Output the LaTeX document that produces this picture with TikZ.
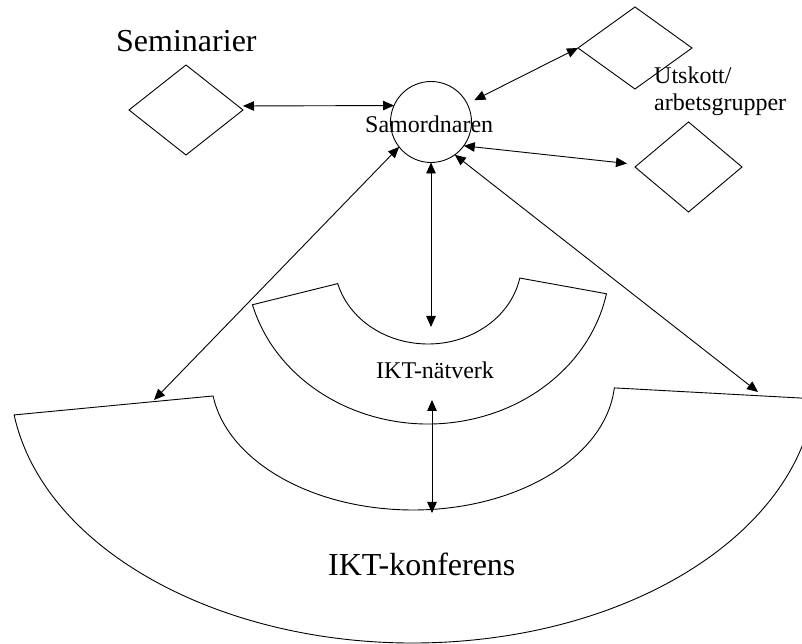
\documentclass[tikz,border=0pt]{standalone}
\usepackage{fontspec}
\setmainfont{Liberation Serif}
\usetikzlibrary{shapes.geometric,arrows.meta,calc}
\begin{document}
\begin{tikzpicture}[x=1pt,y=1pt,
  outline/.style={draw=black, line width=0.9pt},
  rhomb/.style={outline, shape=diamond, inner sep=0pt, outer sep=0pt},
  link/.style={line width=0.9pt,
    {Triangle[length=11pt,width=9.5pt]}-{Triangle[length=11pt,width=9.5pt]}},
  bigtext/.style={inner sep=0pt, anchor=base west, font=\fontsize{32}{38}\selectfont},
  smalltext/.style={inner sep=0pt, anchor=base west, font=\fontsize{24}{27}\selectfont},
]
\clip (0,0) rectangle (802,644);
\fill[white] (0,0) rectangle (802,644);

% conference band (wide elliptical sector)
\coordinate (cc) at (413,267);
\draw[outline] ($(cc)+(188.2:403 and 266)$)
  arc[start angle=188.2, end angle=355.3, x radius=403, y radius=266]
  -- ($(cc)+(355.3:202 and 133)$)
  arc[start angle=355.3, end angle=188.2, x radius=202, y radius=133]
  -- cycle;

% network band (smaller sector)
\coordinate (nc) at (428,382);
\draw[outline] ($(nc)+(195.3:182 and 162)$)
  arc[start angle=195.3, end angle=348.7, x radius=182, y radius=162]
  -- ($(nc)+(348.7:93.6 and 82)$)
  arc[start angle=348.7, end angle=195.3, x radius=93.6, y radius=82]
  -- cycle;

% coordinator circle
\node[outline, circle, minimum size=81pt, inner sep=0pt, outer sep=0pt] (samo) at (431,522) {};

% diamonds
\node[rhomb, minimum width=114pt, minimum height=90pt] (sem) at (186,534) {};
\node[rhomb, minimum width=114pt, minimum height=82pt] (trd) at (635,596) {};
\node[rhomb, minimum width=107pt, minimum height=90pt] (lrd) at (688.5,477) {};

% labels
\node[bigtext] (semlbl) at (116,592) {Seminarier};
\node[bigtext] (conflbl) at (328,68) {IKT-konferens};
\node[smalltext] (netlbl) at (376,265) {IKT-nätverk};
\node[smalltext] (samolbl) at (365,511) {Samordnaren};
\node[smalltext, align=left] (utlbl) at (654,533) {Utskott/\\arbetsgrupper};

% arrow ends on the bands
\coordinate (conf-l) at (154,244);
\coordinate (conf-r) at (758,252);
\coordinate (net-in) at (431,317);
\coordinate (net-out) at (432,244);
\coordinate (conf-in) at (432,131);

% connectors
\draw[link] ([yshift=4pt]sem.east) -- (samo.156.7);
\draw[link, shorten >=8pt] (trd.west) -- (samo);
\draw[link] (samo.-36) -- ([xshift=-8pt,yshift=3.5pt]lrd.west);
\draw[link] (samo.218) -- (conf-l);
\draw[link] (samo.south) -- (net-in);
\draw[link] (samo.-54) -- (conf-r);
\draw[link] (net-out) -- (conf-in);
\end{tikzpicture}
\end{document}
